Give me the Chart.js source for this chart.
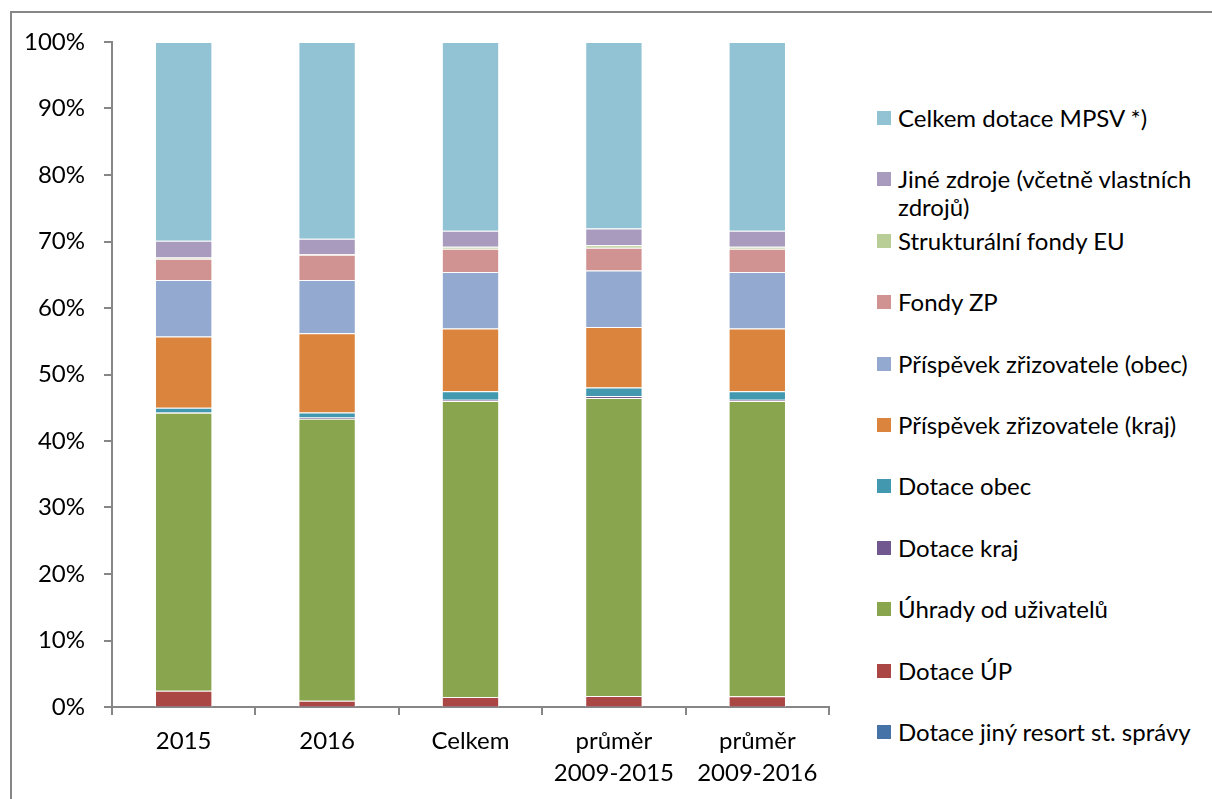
<!DOCTYPE html>
<html>
<head>
<meta charset="utf-8">
<script src="https://cdn.jsdelivr.net/npm/chart.js@4.4.0/dist/chart.umd.min.js"></script>
<style>
    html, body { margin: 0; padding: 0; background: #fff; }
    body { width: 1212px; height: 799px; position: relative; overflow: hidden; font-family: Lato, sans-serif; }
    #frame { position: absolute; left: 10px; top: 11px; width: 1300px; height: 900px; border: 2px solid #868686; }
    #wrap { position: absolute; left: 0; top: 0; width: 840px; height: 799px; }
    #legend { position: absolute; left: 877px; top: 104px; width: 330px; margin: 0; padding: 0; list-style: none; }
    #legend li { height: 61.4px; position: relative; padding-left: 21px; font-size: 24px; line-height: 28px; color: #000; }
    #legend li span { position: absolute; left: 0; top: 7px; width: 14px; height: 14px; }
</style>
</head>
<body>
<div id="frame"></div>
<div id="wrap"><canvas id="myChart"></canvas></div>
<ul id="legend"></ul>
<script>
"use strict";

let categories = ["2015", "2016", "Celkem", ["průměr", "2009-2015"], ["průměr", "2009-2016"]];

let jinyResort = [0.05, 0.05, 0.05, 0.05, 0.05];
let dotaceUP = [2.4, 0.9, 1.45, 1.6, 1.55];
let uhrady = [41.8, 42.4, 44.5, 44.8, 44.4];
let dotaceKraj = [0.05, 0.2, 0.2, 0.3, 0.2];
let dotaceObec = [0.7, 0.75, 1.3, 1.3, 1.3];
let prispevekKraj = [10.7, 11.9, 9.4, 9.1, 9.4];
let prispevekObec = [8.5, 8.0, 8.5, 8.5, 8.5];
let fondyZP = [3.2, 3.8, 3.5, 3.4, 3.5];
let strukturalni = [0.2, 0.1, 0.3, 0.4, 0.3];
let jineZdroje = [2.5, 2.3, 2.4, 2.5, 2.4];
let dotaceMPSV = [29.9, 29.6, 28.4, 28.05, 28.4];

let yTicks = [0, 10, 20, 30, 40, 50, 60, 70, 80, 90, 100];

let series = [
    { label: "Dotace jiný resort st. správy", data: jinyResort, color: "#4572A7" },
    { label: "Dotace ÚP", data: dotaceUP, color: "#AA4643" },
    { label: "Úhrady od uživatelů", data: uhrady, color: "#89A54E" },
    { label: "Dotace kraj", data: dotaceKraj, color: "#71588F" },
    { label: "Dotace obec", data: dotaceObec, color: "#4198AF" },
    { label: "Příspěvek zřizovatele (kraj)", data: prispevekKraj, color: "#DB843D" },
    { label: "Příspěvek zřizovatele (obec)", data: prispevekObec, color: "#93A9CF" },
    { label: "Fondy ZP", data: fondyZP, color: "#D19392" },
    { label: "Strukturální fondy EU", data: strukturalni, color: "#B9CD96" },
    { label: "Jiné zdroje (včetně vlastních zdrojů)", data: jineZdroje, color: "#A99BBD" },
    { label: "Celkem dotace MPSV *)", data: dotaceMPSV, color: "#92C3D4" }
];

let axisColor = "#868686";
let font = { family: "Lato, sans-serif", size: 24, lineHeight: 1.3 };

let datasets = series.map(function (s) {
    return {
        label: s.label,
        data: s.data,
        backgroundColor: s.color,
        borderColor: "rgba(255,255,255,0.35)",
        borderWidth: 1,
        barPercentage: 0.4,
        categoryPercentage: 1
    };
});

let myChart = new Chart(document.getElementById("myChart"), {
    type: "bar",
    data: { labels: categories, datasets: datasets },
    options: {
        responsive: true,
        maintainAspectRatio: false,
        animation: false,
        layout: { padding: { top: 42, right: 11, bottom: 0, left: 0 } },
        plugins: { legend: { display: false }, tooltip: { enabled: false } },
        scales: {
            x: {
                stacked: true,
                afterFit: function (scale) { scale.height = 92; },
                grid: { offset: true, drawOnChartArea: false, drawTicks: true, tickLength: 8, color: axisColor, lineWidth: 2 },
                border: { display: true, color: axisColor, width: 2 },
                ticks: { color: "#000", font: font, padding: 11, maxRotation: 0 }
            },
            y: {
                stacked: true,
                min: 0,
                max: 100,
                afterFit: function (scale) { scale.width = 112; },
                afterBuildTicks: function (scale) {
                    scale.ticks = yTicks.map(function (v) { return { value: v }; });
                },
                grid: { drawOnChartArea: false, drawTicks: true, tickLength: 8, color: axisColor, lineWidth: 2 },
                border: { display: true, color: axisColor, width: 2 },
                ticks: {
                    color: "#000",
                    font: { family: "Lato, sans-serif", size: 24 },
                    padding: 19,
                    callback: function (v) { return v + "%"; }
                }
            }
        }
    }
});

// legend drawn as html, top entry first like the original
let legend = document.getElementById("legend");
series.slice().reverse().forEach(function (s) {
    let li = document.createElement("li");
    let box = document.createElement("span");
    box.style.background = s.color;
    li.appendChild(box);
    li.appendChild(document.createTextNode(s.label));
    legend.appendChild(li);
});
</script>
</body>
</html>
